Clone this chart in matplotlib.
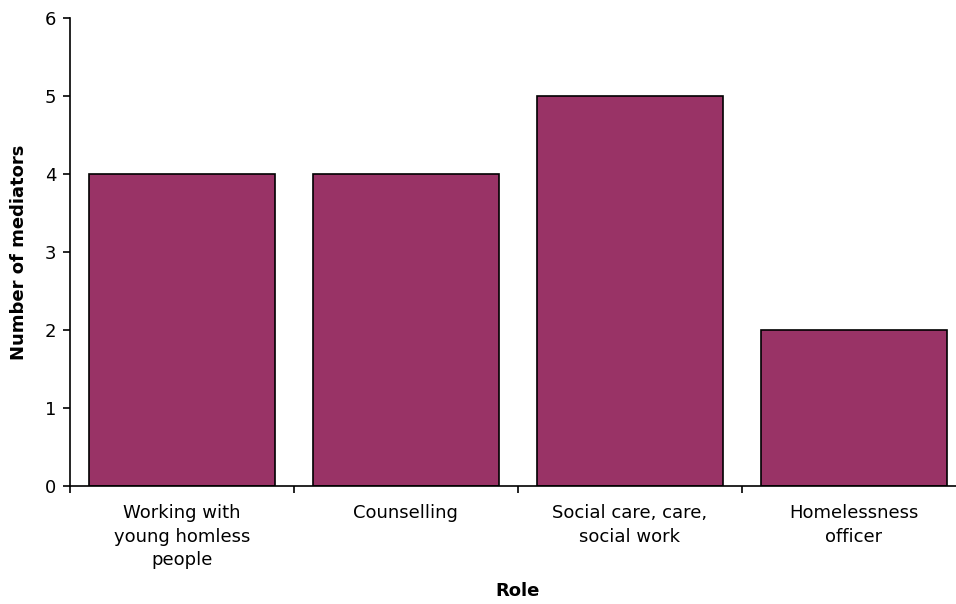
import numpy as np
import matplotlib
matplotlib.use("Agg")
import matplotlib.pyplot as plt

roles = ["Working with\nyoung homless\npeople", "Counselling",
         "Social care, care,\nsocial work", "Homelessness\nofficer"]
counts = [4, 4, 5, 2]

plt.rcParams['font.family'] = ['DejaVu Sans']
fs = 13

fig = plt.figure(figsize=(9.56, 6.04), dpi=100)
ax = fig.add_axes([0.0732, 0.1954, 0.937, 0.7748])

x = np.arange(len(roles))
ax.bar(x, counts, width=0.83, color="#993366", edgecolor="black", linewidth=1.2, zorder=2)

ax.set_xlim(-0.5, len(roles) - 0.5)
ax.set_ylim(0, 6)
ax.set_yticks(range(0, 7))
ax.set_xticks(x)
ax.set_xticklabels(roles, fontsize=fs, linespacing=1.4)
ax.set_xticks(np.arange(-0.5, len(roles), 1.0), minor=True)
ax.tick_params(axis="x", which="major", length=0, pad=13)
ax.tick_params(axis="x", which="minor", length=5, width=1.2, direction="out")
ax.tick_params(axis="y", length=5, width=1.2, labelsize=fs, pad=5)

for s in ["top", "right"]:
    ax.spines[s].set_visible(False)
for s in ["left", "bottom"]:
    ax.spines[s].set_linewidth(1.2)

ax.set_ylabel("Number of mediators", fontsize=fs, fontweight="bold", labelpad=12)
ax.set_xlabel("Role", fontsize=fs, fontweight="bold", labelpad=9)

fig.savefig("out.png", dpi=100)
